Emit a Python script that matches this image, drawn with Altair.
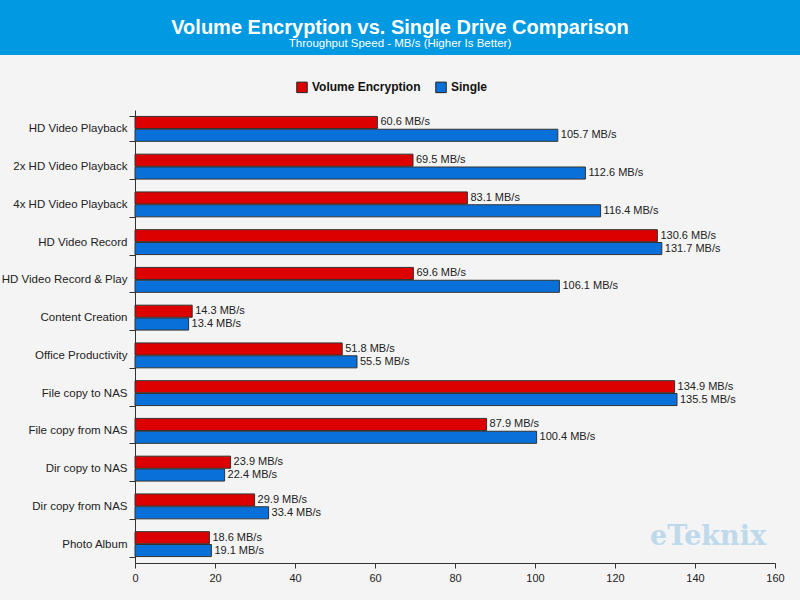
import altair as alt
import pandas as pd

categories = ["HD Video Playback", "2x HD Video Playback", "4x HD Video Playback",
              "HD Video Record", "HD Video Record & Play", "Content Creation",
              "Office Productivity", "File copy to NAS", "File copy from NAS",
              "Dir copy to NAS", "Dir copy from NAS", "Photo Album"]
volume_enc = [60.6, 69.5, 83.1, 130.6, 69.6, 14.3, 51.8, 134.9, 87.9, 23.9, 29.9, 18.6]
single = [105.7, 112.6, 116.4, 131.7, 106.1, 13.4, 55.5, 135.5, 100.4, 22.4, 33.4, 19.1]
series_names = ["Volume Encryption", "Single"]
colors = ["#dd0000", "#0870d8"]

rows = []
for c, a, b in zip(categories, volume_enc, single):
    rows.append({"cat": c, "series": series_names[0], "value": a, "label": f"{a} MB/s"})
    rows.append({"cat": c, "series": series_names[1], "value": b, "label": f"{b} MB/s"})
df = pd.DataFrame(rows)

FONT = "Liberation Sans"

base = alt.Chart(df).encode(
    y=alt.Y("cat:N", sort=categories, title=None,
            scale=alt.Scale(paddingInner=0.34, paddingOuter=0.17),
            axis=alt.Axis(tickBand="extent", tickSize=6, labelPadding=2,
                          labelFontSize=11.5, labelColor="#222", labelFont=FONT,
                          domainColor="#333", tickColor="#333")),
    yOffset=alt.YOffset("series:N", sort=series_names,
                        scale=alt.Scale(paddingInner=0.06)),
)

bars = base.mark_bar(stroke="#333", strokeWidth=1).encode(
    x=alt.X("value:Q", title=None,
            scale=alt.Scale(domain=[0, 160], nice=False),
            axis=alt.Axis(values=list(range(0, 161, 10)),
                          labelExpr="datum.value % 20 == 0 ? datum.label : ''",
                          grid=False, tickSize=5, labelPadding=4, labelFlush=False,
                          labelFontSize=11, labelColor="#222", labelFont=FONT,
                          domainColor="#333", tickColor="#333")),
    color=alt.Color("series:N", sort=series_names,
                    scale=alt.Scale(domain=series_names, range=colors),
                    legend=alt.Legend(title=None, orient="none", direction="horizontal",
                                      legendX=161, legendY=-29, symbolType="square",
                                      symbolSize=110, symbolStrokeColor="#222",
                                      symbolStrokeWidth=1, labelFontSize=12,
                                      labelFontWeight="bold", labelFont=FONT,
                                      labelColor="#111", columnPadding=12)),
)

texts = base.mark_text(align="left", baseline="middle", dx=3, fontSize=11,
                       font=FONT, color="#222").encode(
    x=alt.X("value:Q"),
    text="label:N",
)

one = pd.DataFrame({"a": [0]})
header = alt.Chart(one).mark_rect(color="#0099e2").encode(
    x=alt.value(-135), x2=alt.value(665), y=alt.value(-110), y2=alt.value(-55)
)
watermark = alt.Chart(one).mark_text(
    text="eTeknix", font="DejaVu Serif", fontWeight="bold", fontSize=27,
    color="#a9cfea", opacity=0.7, align="center", baseline="middle"
).encode(x=alt.value(573), y=alt.value(427))

chart = alt.layer(header, bars, texts, watermark).properties(
    width=640, height=453,
    autosize=alt.AutoSizeParams(type="none"),
    padding={"left": 135, "top": 110, "right": 25, "bottom": 37},
    background="#f4f4f4",
    title=alt.TitleParams(
        text="Volume Encryption vs. Single Drive Comparison",
        subtitle="Throughput Speed - MB/s (Higher Is Better)",
        color="white", subtitleColor="white", font=FONT, subtitleFont=FONT,
        fontSize=20, fontWeight="bold", subtitleFontSize=11.5,
        anchor="middle", frame="group", dx=-55, offset=-49, subtitlePadding=0,
    ),
).configure_view(stroke=None)

chart.save("out.html", embed_options={"renderer": "svg", "actions": False})
